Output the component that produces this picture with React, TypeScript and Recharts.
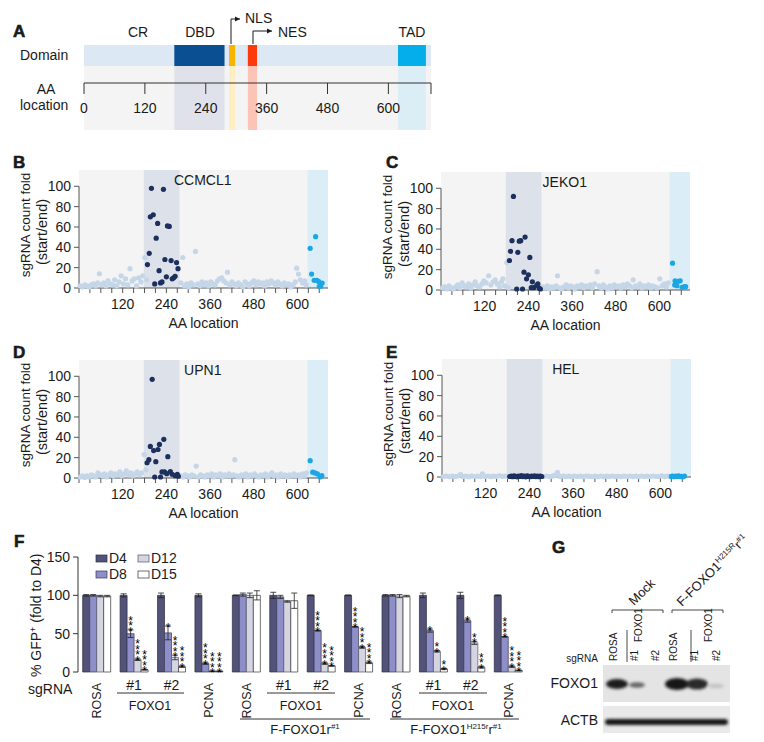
import React from 'react';
import {
  ComposedChart,
  ScatterChart,
  Scatter,
  BarChart,
  Bar,
  ErrorBar,
  LabelList,
  XAxis,
  YAxis,
  ReferenceArea,
  ReferenceLine,
  ReferenceDot,
} from 'recharts';

const FONT = '"Liberation Sans", Arial, Helvetica, sans-serif';
const INK = '#1a1a1a';

// ---- panel A: FOXO1 protein domains (amino acid positions) ----
const aaLength = 684;
const aaTicks = [0, 120, 240, 360, 480, 600, 684];
const proteinDomains = [
  { name: 'DBD', from: 178, to: 277, color: '#0b4f93', shade: '#dfe2ea' },
  { name: 'NLS', from: 286, to: 298, color: '#f7b500', shade: '#fdeec4' },
  { name: 'NES', from: 323, to: 341, color: '#ff3a0a', shade: '#fbc4b6' },
  { name: 'TAD', from: 619, to: 674, color: '#03aeea', shade: '#dbeef6' },
];
// corners of the domain map, so the chart has a data extent
const domainExtent = [{ x: 0, y: 0 }, { x: aaLength, y: 85 }];

// ---- panels B-E: sgRNA tiling screens ----
const scatterTicks = [0, 30, 60, 90, 120, 150, 180, 210, 240, 270, 300, 330, 360, 390, 420, 450, 480, 510, 540, 570, 600, 630, 660];
const foldTicks = [0, 20, 40, 60, 80, 100];
const dbdBand = [178, 276];
const tadBand = [628, 684];

const lightB = [[3,2],[10,1],[16,3],[22,2],[28,1],[34,3],[40,4],[46,2],[52,5],[56,14],[62,3],[68,5],[74,2],[80,7],[86,4],[92,3],[98,8],[104,2],[110,6],[116,12],[122,4],[128,9],[134,3],[140,19],[146,7],[152,9],[158,2],[164,10],[170,6],[175,12],[181,30],[186,8],[280,5],[285,30],[290,2],[296,4],[302,1],[308,5],[314,3],[320,36],[326,4],[332,2],[338,6],[344,3],[350,5],[356,2],[362,6],[368,4],[374,3],[380,7],[386,9],[392,10],[398,7],[404,5],[408,15.6],[414,3],[420,6],[426,4],[432,2],[438,5],[444,3],[450,1],[456,6],[462,4],[468,2],[474,5],[480,7],[486,3],[492,6],[498,4],[504,5],[510,2],[516,6],[522,4],[528,7],[534,5],[540,3],[546,6],[552,4],[558,2],[564,5],[570,3],[576,4],[582,1],[588,3],[594,6],[598,19.5],[603,13.7],[608,8],[614,5],[620,7],[624,3]];
const darkB = [[199,98],[232,97],[196,70],[204,72],[216,63.5],[243,61],[248,60.5],[212,49],[193,34],[188,23],[220,17],[236,28],[253,27],[268,25],[272,19],[240,11],[256,9],[260,10],[264,11.5],[208,4],[224,5],[228,6]];
const tadB = [[635,39],[650,50.5],[639,13.7],[646,7.5],[653,7.5],[658,6.5],[660,1.6],[664,1.6],[668,4.9]];

const lightC = [[4,2],[10,3],[16,1],[22,4],[28,2],[34,1],[40,3],[46,5],[52,2],[58,7],[64,4],[70,3],[76,6],[82,2],[88,5],[94,8],[100,4],[106,3],[112,6],[118,9],[124,7],[131,14],[137,5],[143,8],[149,10],[155,6],[161,3],[166,8],[170,11],[175,4],[181,27],[185,2],[280,3],[286,2],[292,4],[298,1],[304,3],[310,2],[316,4],[320,14],[326,2],[332,1],[338,3],[344,5],[350,2],[356,4],[362,3],[368,1],[374,4],[380,3],[386,5],[392,2],[398,4],[404,3],[410,5],[416,2],[422,6],[429,18],[434,4],[440,2],[446,5],[452,3],[458,1],[464,4],[470,2],[476,5],[482,3],[488,4],[494,2],[500,5],[506,3],[512,6],[518,4],[524,2],[528,10],[534,4],[540,3],[546,6],[552,2],[558,4],[564,3],[570,5],[576,2],[582,4],[588,3],[594,2],[601,11],[607,4],[613,6],[619,3],[624,7]];
const darkC = [[199,92],[195,48.5],[219,48.5],[215,48],[231,52],[191,38],[211,37],[188,29],[244,32],[228,17.5],[240,15],[235,11],[251,8],[208,1],[224,1],[248,2.3],[255,2.3],[263,4.6],[266,6],[270,1.6],[273,1]];
const tadC = [[636,26.4],[643,9],[651,8.6],[657,9],[642,5],[648,4.3],[662,2.6],[669,3.3],[672,3.3]];

const lightD = [[4,1],[10,2],[16,0.5],[22,2],[28,1],[34,3],[40,2],[46,1],[52,5],[58,3],[64,2],[70,4],[76,1],[82,3],[88,5],[94,2],[100,4],[106,3],[112,6],[118,2],[124,4],[130,7],[136,3],[142,5],[148,2],[154,4],[160,6],[166,3],[172,5],[179,23],[184,8],[280,2],[286,1],[292,3],[298,2],[304,1],[310,3],[316,2],[322,11.7],[328,1],[334,3],[340,2],[346,1],[352,3],[358,2],[364,4],[370,1],[376,3],[382,2],[388,4],[394,1],[400,3],[406,2],[412,4],[418,2],[424,3],[428,18],[434,2],[440,1],[446,3],[452,2],[458,4],[464,1],[470,3],[476,2],[482,4],[488,2],[494,1],[500,3],[506,2],[512,4],[518,1],[524,3],[530,5],[536,2],[542,3],[548,1],[554,4],[560,2],[566,3],[572,1],[578,3],[584,2],[590,4],[596,2],[602,3],[608,1],[614,4],[620,2],[625,5]];
const darkD = [[201,97],[196,31],[205,27],[217,28],[221,33],[233,38],[211,16],[187,15],[192,18],[244,21],[208,1],[224,1],[228,6],[235,6],[241,4.3],[251,6.3],[256,3.7],[264,2.3],[270,3.7],[273,1.7]];
const tadD = [[635,17],[642,5.7],[648,5],[655,4],[662,1],[667,2.3]];

const lightE = [[4,0.5],[12,1],[20,0.3],[28,0.8],[36,0.4],[44,1],[51,2.6],[58,0.5],[66,0.9],[74,0.3],[82,1],[90,0.5],[98,0.8],[106,0.4],[111,3],[118,0.6],[126,1],[134,0.3],[142,0.8],[150,0.5],[158,1.4],[166,0.6],[174,0.9],[182,0.4],[280,0.6],[288,1],[296,0.3],[304,0.8],[310,1.5],[317,4.6],[324,0.6],[332,1],[340,0.4],[348,0.8],[356,0.3],[364,1],[372,0.5],[380,0.8],[388,0.3],[396,1],[404,0.6],[412,0.4],[420,0.9],[428,0.5],[436,1],[444,0.3],[452,0.8],[460,0.5],[468,1],[476,0.4],[484,0.7],[492,0.3],[500,0.9],[508,0.5],[516,1],[524,0.4],[532,0.8],[540,0.3],[548,1],[556,0.5],[564,0.8],[572,0.4],[580,1],[588,0.5],[596,0.7],[604,1.2],[612,0.4],[620,0.8],[626,0.5]];
const darkE = [[186,0.5],[190,1],[194,0.3],[198,1.2],[202,0.6],[206,0.2],[210,1],[214,0.5],[218,1.3],[222,0.4],[226,0.8],[230,0.2],[234,1.1],[238,0.6],[242,0.3],[246,1],[250,0.5],[254,1.2],[258,0.4],[262,0.8],[266,0.3],[270,1],[274,0.5]];
const tadE = [[630,0.6],[634,1],[638,0.3],[642,0.8],[646,0.5],[650,1.1],[654,0.4],[658,0.7],[662,0.2],[666,0.9]];

// ---- panel F: GFP competition assay ----
const fLabels = ['ROSA', '#1', '#2', 'PCNA', 'ROSA', '#1', '#2', 'PCNA', 'ROSA', '#1', '#2', 'PCNA'];
const d4 = [100, 100, 100, 100, 100, 100, 100, 100, 100, 100, 100, 100];
const d8 = [100, 50, 51, 11, 101, 98, 54, 59, 100, 54, 67, 46];
const d12 = [99, 16, 19, 1, 100, 92, 11, 32, 99, 27, 38, 7];
const d15 = [99, 3, 7, 1, 100, 93, 8, 12, 99, 4, 6, 2];
const e4 = [1, 2, 3, 2, 0.5, 4, 0.5, 0.5, 1, 3, 4, 0.5];
const e8 = [1, 5, 9, 1, 2, 2, 0.5, 0.5, 1, 2, 2, 0.5];
const e12 = [1, 1, 3, 0.3, 3, 1, 1, 1, 2, 1, 2, 1];
const e15 = [1, 0.5, 1, 0.3, 6, 10, 0.5, 1, 1, 0.5, 1, 0.5];
const s8 = ['', '***', '*', '****', '', '', '****', '****', '', '*', '*', '****'];
const s12 = ['', '****', '****', '****', '', '', '****', '****', '', '**', '**', '****'];
const s15 = ['', '****', '****', '****', '', '', '****', '****', '', '**', '***', '****'];

const fSeries = [
  { key: 'd4', name: 'D4', values: d4, errs: e4, stars: null, fill: '#53537a', stroke: '#2b2b40' },
  { key: 'd8', name: 'D8', values: d8, errs: e8, stars: s8, fill: '#8e8ec8', stroke: '#3a3a5a' },
  { key: 'd12', name: 'D12', values: d12, errs: e12, stars: s12, fill: '#d5d5e1', stroke: '#55556a' },
  { key: 'd15', name: 'D15', values: d15, errs: e15, stars: s15, fill: '#ffffff', stroke: '#333333' },
];

const fRows = fLabels.map((label, i) => ({
  label,
  d4: d4[i], d8: d8[i], d12: d12[i], d15: d15[i],
  e4: e4[i], e8: e8[i], e12: e12[i], e15: e15[i],
  s8: s8[i], s12: s12[i], s15: s15[i],
}));

const toPts = (arr: number[][]) => arr.map(([x, y]) => ({ x, y }));

const dot = (color: string) => (p: any) => <circle cx={p.cx} cy={p.cy} r={2.6} fill={color} />;
const noDot = () => <g />;

const yLabelTwoLines = (p: any) => {
  const { x, y, height } = p.viewBox;
  const mid = y + height / 2;
  return (
    <g fontFamily={FONT} fill={INK} textAnchor="middle">
      <text x={x - 9} y={mid - 4} fontSize={13.5} transform={`rotate(-90 ${x - 9} ${mid - 4})`}>sgRNA count fold</text>
      <text x={x + 8} y={mid + 3} fontSize={14.5} transform={`rotate(-90 ${x + 8} ${mid + 3})`}>(start/end)</text>
    </g>
  );
};

interface ScreenProps {
  left: number;
  top: number;
  name: string;
  light: number[][];
  dark: number[][];
  tad: number[][];
}

// top = y of the plot area's upper edge
const ScreenPlot: React.FC<ScreenProps> = ({ left, top, name, light, dark, tad }) => (
  <div style={{ position: 'absolute', left, top: top - 30 }}>
    <ScatterChart width={340} height={195} margin={{ top: 30, right: 12, bottom: 2, left: 39 }}>
      <XAxis
        type="number"
        dataKey="x"
        domain={[0, aaLength]}
        ticks={scatterTicks}
        interval={0}
        tickFormatter={(v: number) => (v > 0 && v % 120 === 0 ? String(v) : '')}
        height={45}
        tickSize={5}
        tickMargin={6}
        axisLine={{ stroke: '#555' }}
        tickLine={{ stroke: '#555' }}
        tick={{ fontSize: 14, fill: INK, fontFamily: FONT }}
        label={{ value: 'AA location', position: 'insideBottom', offset: 5, fontSize: 14, fill: INK, fontFamily: FONT }}
      />
      <YAxis
        type="number"
        dataKey="y"
        domain={[0, 116]}
        ticks={foldTicks}
        interval={0}
        width={40}
        tickSize={5}
        tickMargin={3}
        axisLine={false}
        tickLine={{ stroke: '#555' }}
        tick={{ fontSize: 14, fill: INK, fontFamily: FONT }}
        label={yLabelTwoLines}
      />
      <ReferenceArea x1={0} x2={aaLength} fill="#f4f4f4" fillOpacity={1} stroke="none" />
      <ReferenceArea x1={dbdBand[0]} x2={dbdBand[1]} fill="#dde1e9" fillOpacity={1} stroke="none" />
      <ReferenceArea x1={tadBand[0]} x2={tadBand[1]} fill="#dbedf6" fillOpacity={1} stroke="none" />
      <ReferenceLine segment={[{ x: 0, y: 0 }, { x: 0, y: 100 }]} stroke="#555" />
      <ReferenceDot
        x={340}
        y={116}
        r={0}
        fill="none"
        stroke="none"
        label={{ value: name, position: 'bottom', offset: 5, fontSize: 14, fill: INK, fontFamily: FONT }}
      />
      <Scatter data={toPts(light)} shape={dot('#c4d6e8')} isAnimationActive={false} />
      <Scatter data={toPts(dark)} shape={dot('#1c2f5d')} isAnimationActive={false} />
      <Scatter data={toPts(tad)} shape={dot('#1ba6e4')} isAnimationActive={false} />
    </ScatterChart>
  </div>
);

// significance stars, one column above the bar (and its error bar)
const starContent = (values: number[], errs: number[], stars: string[]) => (p: any) => {
  const { x, y, width, height, index } = p;
  const s = stars[index];
  if (!s) return null;
  const ppu = values[index] ? height / values[index] : 0.767;
  const cx = x + width / 2;
  const top = y - errs[index] * ppu - 1;
  return (
    <text fontSize={12} fontFamily={FONT} fill="#000" textAnchor="middle">
      {s.split('').map((c, k) => (
        <tspan key={k} x={cx} y={top - k * 5.5 + 7}>
          {c}
        </tspan>
      ))}
    </text>
  );
};

const fTick = (p: any) => {
  const { x, y, payload } = p;
  const lbl = String(payload.value);
  if (lbl.startsWith('#')) {
    return (
      <text x={x} y={y + 18} textAnchor="middle" fontSize={14} fontFamily={FONT} fill={INK}>
        {lbl}
      </text>
    );
  }
  const tx = x + 4.5;
  const ty = y + 11;
  return (
    <text x={tx} y={ty} transform={`rotate(-90 ${tx} ${ty})`} textAnchor="end" fontSize={12.5} fontFamily={FONT} fill={INK}>
      {lbl}
    </text>
  );
};

const fYLabel = (p: any) => {
  const { x, y, height } = p.viewBox;
  const bx = x + 3;
  const by = y + height + 5;
  return (
    <text x={bx} y={by} transform={`rotate(-90 ${bx} ${by})`} fontSize={14} fontFamily={FONT} fill={INK}>
      % GFP<tspan dy={-5} fontSize={9}>+</tspan><tspan dy={5}> (fold to D4)</tspan>
    </text>
  );
};

const rot = (x: number, y: number, a = -90) => `rotate(${a} ${x} ${y})`;

const Overlay: React.FC = () => (
  <svg width={764} height={742} style={{ position: 'absolute', left: 0, top: 0, pointerEvents: 'none' }} fontFamily={FONT} fill={INK}>
    <defs>
      <filter id="blot" x="-30%" y="-60%" width="160%" height="220%">
        <feGaussianBlur stdDeviation="1.4" />
      </filter>
      <marker id="arr" markerWidth="6" markerHeight="6" refX="5" refY="3" orient="auto">
        <path d="M0,0.5 L5,3 L0,5.5 z" fill={INK} />
      </marker>
    </defs>

    {/* panel letters */}
    <g fontSize={17} fontWeight={700} stroke={INK} strokeWidth={0.6}>
      <text x={13} y={37}>A</text>
      <text x={13} y={168}>B</text>
      <text x={386} y={168}>C</text>
      <text x={13} y={358}>D</text>
      <text x={386} y={358}>E</text>
      <text x={14} y={547}>F</text>
      <text x={552} y={553}>G</text>
    </g>

    {/* panel A labels */}
    <g fontSize={14}>
      <text x={138} y={37} textAnchor="middle">CR</text>
      <text x={200} y={37} textAnchor="middle">DBD</text>
      <text x={412} y={37} textAnchor="middle">TAD</text>
      <text x={245} y={23}>NLS</text>
      <text x={278} y={37}>NES</text>
      <text x={20} y={60}>Domain</text>
      <text x={46} y={94} textAnchor="middle">AA</text>
      <text x={20} y={110}>location</text>
    </g>
    <path d="M231,44 V19 H240" fill="none" stroke={INK} strokeWidth={1} markerEnd="url(#arr)" />
    <path d="M253,44 V31 H272" fill="none" stroke={INK} strokeWidth={1} markerEnd="url(#arr)" />

    {/* panel F legend */}
    <g fontSize={14}>
      {fSeries.map((s, i) => {
        const col = Math.floor(i / 2);
        const row = i % 2;
        const sx = 96 + col * 42;
        const sy = 555 + row * 16;
        return (
          <g key={s.key}>
            <rect x={sx} y={sy} width={11} height={7} fill={s.fill} stroke={s.stroke} strokeWidth={0.7} />
            <text x={sx + 13} y={sy + 8}>{s.name}</text>
          </g>
        );
      })}
    </g>

    {/* panel F grouping */}
    <text x={28} y={694} fontSize={14}>sgRNA</text>
    <g stroke="#333" strokeWidth={1}>
      <line x1={117} x2={184} y1={693} y2={693} />
      <line x1={267} x2={335} y1={693} y2={693} />
      <line x1={419} x2={487} y1={693} y2={693} />
      <line x1={240} x2={370} y1={719} y2={719} />
      <line x1={390} x2={519} y1={719} y2={719} />
    </g>
    <g fontSize={12.5} textAnchor="middle">
      <text x={150} y={710}>FOXO1</text>
      <text x={301} y={710}>FOXO1</text>
      <text x={453} y={710}>FOXO1</text>
    </g>
    <text x={305} y={734} fontSize={13} textAnchor="middle">
      F-FOXO1r<tspan dy={-5} fontSize={8}>#1</tspan>
    </text>
    <text x={456} y={734} fontSize={13} textAnchor="middle">
      F-FOXO1<tspan dy={-5} fontSize={8}>H215r</tspan><tspan dy={5}>r</tspan><tspan dy={-5} fontSize={8}>#1</tspan>
    </text>

    {/* panel G western blot */}
    <text x={634} y={606} fontSize={13} transform={rot(634, 606, -45)}>Mock</text>
    <text x={682} y={607} fontSize={13} transform={rot(682, 607, -45)}>
      F-FOXO1<tspan dy={-5} fontSize={8}>H215R</tspan><tspan dy={5}>r</tspan><tspan dy={-5} fontSize={8}>#1</tspan>
    </text>
    <g stroke="#333" strokeWidth={0.9} fill="none">
      <path d="M612,613 V610 H663 V613" />
      <path d="M672,613 V610 H723 V613" />
      <line x1={627} x2={627} y1={630} y2={662} />
      <line x1={691} x2={691} y1={630} y2={662} />
    </g>
    <g fontSize={10}>
      <text x={641.6} y={642} transform={rot(641.6, 642)}>FOXO1</text>
      <text x={711.6} y={642} transform={rot(711.6, 642)}>FOXO1</text>
      {[613, 634, 655, 673, 694, 716].map((lx, i) => (
        <text key={i} x={lx + 3.6} y={661} transform={rot(lx + 3.6, 661)}>
          {['ROSA', '#1', '#2', 'ROSA', '#1', '#2'][i]}
        </text>
      ))}
      <text x={598} y={662} textAnchor="end">sgRNA</text>
    </g>
    <text x={598} y={688} fontSize={14} textAnchor="end">FOXO1</text>
    <text x={598} y={725} fontSize={14} textAnchor="end">ACTB</text>
    <rect x={603} y={665} width={127} height={37} fill="#e4e4e4" />
    <rect x={603} y={706} width={127} height={27} fill="#e9e9e9" />
    <g filter="url(#blot)">
      <ellipse cx={617} cy={684} rx={11} ry={5} fill="#1e1e1e" />
      <ellipse cx={637} cy={685} rx={8} ry={2.8} fill="#666" />
      <ellipse cx={677} cy={684} rx={12} ry={6} fill="#161616" />
      <ellipse cx={697} cy={684} rx={11} ry={5.5} fill="#2a2a2a" />
      <ellipse cx={716} cy={686} rx={8} ry={2.5} fill="#c4c4c4" />
      <rect x={605} y={719} width={123} height={6} rx={3} fill="#151515" />
    </g>
  </svg>
);

const App: React.FC = () => (
  <div style={{ position: 'absolute', left: 0, top: 0, width: 764, height: 742, background: '#fff', fontFamily: FONT }}>
    {/* A: domain boxes */}
    <div style={{ position: 'absolute', left: 0, top: 0 }}>
      <ScatterChart width={440} height={130} margin={{ top: 45, right: 9, bottom: 0, left: 84 }}>
        <XAxis type="number" dataKey="x" domain={[0, aaLength]} hide />
        <YAxis type="number" dataKey="y" domain={[0, 85]} hide />
        <ReferenceArea x1={0} x2={aaLength} y1={0} y2={64} fill="#f4f4f4" fillOpacity={1} stroke="none" />
        <ReferenceArea x1={0} x2={aaLength} y1={64} y2={85} fill="#dce8f4" fillOpacity={1} stroke="none" />
        {proteinDomains.map((d) => (
          <ReferenceArea key={d.name + 's'} x1={d.from} x2={d.to} y1={0} y2={85} fill={d.shade} fillOpacity={1} stroke="none" />
        ))}
        {proteinDomains.map((d) => (
          <ReferenceArea key={d.name} x1={d.from} x2={d.to} y1={64} y2={85} fill={d.color} fillOpacity={1} stroke="none" />
        ))}
        <Scatter data={domainExtent} shape={noDot} isAnimationActive={false} />
      </ScatterChart>
    </div>
    {/* A: AA axis */}
    <div style={{ position: 'absolute', left: 0, top: 0 }}>
      <ComposedChart width={440} height={130} data={[{ x: 0 }, { x: aaLength }]} margin={{ top: 60, right: 9, bottom: 0, left: 84 }}>
        <XAxis
          type="number"
          dataKey="x"
          domain={[0, aaLength]}
          ticks={aaTicks}
          interval={0}
          tickFormatter={(v: number) => (v === aaLength ? '' : String(v))}
          height={47}
          tickSize={11}
          tickMargin={9}
          axisLine={{ stroke: '#333' }}
          tickLine={{ stroke: '#333' }}
          tick={{ fontSize: 14, fill: INK, fontFamily: FONT }}
        />
        <YAxis hide />
      </ComposedChart>
    </div>

    <ScreenPlot left={0} top={170} name="CCMCL1" light={lightB} dark={darkB} tad={tadB} />
    <ScreenPlot left={362} top={172} name="JEKO1" light={lightC} dark={darkC} tad={tadC} />
    <ScreenPlot left={0} top={360} name="UPN1" light={lightD} dark={darkD} tad={tadD} />
    <ScreenPlot left={363} top={359} name="HEL" light={lightE} dark={darkE} tad={tadE} />

    {/* F: competition assay */}
    <div style={{ position: 'absolute', left: 0, top: 540 }}>
      <BarChart width={540} height={200} data={fRows} margin={{ top: 17, right: 13, bottom: 8, left: 38 }} barCategoryGap="12.5%" barGap={0}>
        <XAxis dataKey="label" height={60} interval={0} axisLine={false} tickLine={false} tickSize={0} tickMargin={0} tick={fTick} />
        <YAxis
          domain={[0, 150]}
          ticks={[0, 50, 100, 150]}
          interval={0}
          width={40}
          tickSize={5}
          tickMargin={3}
          axisLine={{ stroke: '#333' }}
          tickLine={{ stroke: '#333' }}
          tick={{ fontSize: 14, fill: INK, fontFamily: FONT }}
          label={fYLabel}
        />
        {fSeries.map((s) => (
          <Bar key={s.key} dataKey={s.key} fill={s.fill} stroke={s.stroke} strokeWidth={0.7} isAnimationActive={false}>
            <ErrorBar dataKey={'e' + s.key.slice(1)} width={3} stroke="#222" strokeWidth={0.8} direction="y" />
            {s.stars && <LabelList dataKey={'s' + s.key.slice(1)} content={starContent(s.values, s.errs, s.stars)} />}
          </Bar>
        ))}
      </BarChart>
    </div>

    <Overlay />
  </div>
);

export default App;
